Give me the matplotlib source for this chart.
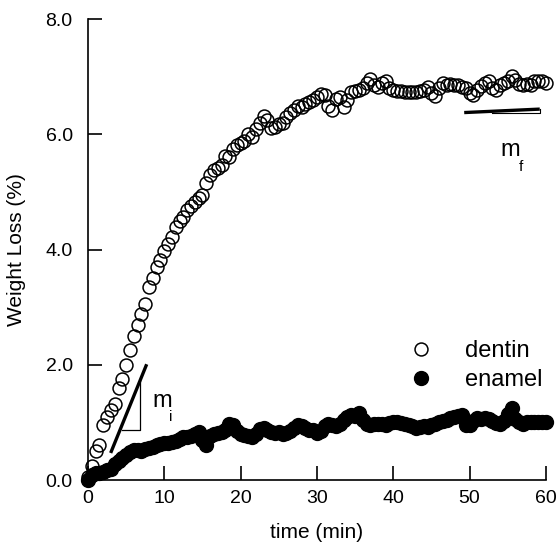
import matplotlib
matplotlib.use("Agg")
import matplotlib.pyplot as plt
from matplotlib.lines import Line2D

plt.rcParams['font.family'] = ['Liberation Sans', 'DejaVu Sans']

time_min = [0, 0.5, 1, 1.5, 2, 2.5, 3, 3.5, 4, 4.5, 5, 5.5, 6, 6.5, 7, 7.5, 8, 8.5, 9, 9.5,
            10, 10.5, 11, 11.5, 12, 12.5, 13, 13.5, 14, 14.5, 15, 15.5, 16, 16.5, 17, 17.5, 18, 18.5, 19, 19.5,
            20, 20.5, 21, 21.5, 22, 22.5, 23, 23.5, 24, 24.5, 25, 25.5, 26, 26.5, 27, 27.5, 28, 28.5, 29, 29.5,
            30, 30.5, 31, 31.5, 32, 32.5, 33, 33.5, 34, 34.5, 35, 35.5, 36, 36.5, 37, 37.5, 38, 38.5, 39, 39.5,
            40, 40.5, 41, 41.5, 42, 42.5, 43, 43.5, 44, 44.5, 45, 45.5, 46, 46.5, 47, 47.5, 48, 48.5, 49, 49.5,
            50, 50.5, 51, 51.5, 52, 52.5, 53, 53.5, 54, 54.5, 55, 55.5, 56, 56.5, 57, 57.5, 58, 58.5, 59, 59.5,
            60]

dentin = [0.05, 0.25, 0.50, 0.60, 0.95, 1.10, 1.22, 1.32, 1.60, 1.75, 2.00, 2.25, 2.50, 2.70, 2.88, 3.05, 3.35, 3.50, 3.70, 3.82,
          3.98, 4.10, 4.22, 4.40, 4.50, 4.57, 4.68, 4.75, 4.83, 4.90, 4.95, 5.15, 5.30, 5.38, 5.42, 5.47, 5.62, 5.60, 5.75, 5.82,
          5.85, 5.88, 6.00, 5.95, 6.10, 6.20, 6.32, 6.25, 6.12, 6.13, 6.18, 6.20, 6.30, 6.37, 6.42, 6.50, 6.48, 6.52, 6.57, 6.60,
          6.65, 6.70, 6.68, 6.50, 6.42, 6.62, 6.65, 6.48, 6.60, 6.74, 6.75, 6.77, 6.80, 6.90, 6.97, 6.85, 6.82, 6.90, 6.93, 6.80,
          6.78, 6.76, 6.75, 6.74, 6.73, 6.74, 6.73, 6.75, 6.78, 6.83, 6.72, 6.66, 6.80, 6.89, 6.85, 6.87, 6.86, 6.85, 6.83, 6.80,
          6.72, 6.68, 6.78, 6.84, 6.90, 6.93, 6.80, 6.77, 6.85, 6.89, 6.92, 7.02, 6.95, 6.88, 6.86, 6.88, 6.85, 6.92, 6.93, 6.92,
          6.90]

enamel = [0.00, 0.08, 0.12, 0.13, 0.14, 0.17, 0.20, 0.27, 0.33, 0.39, 0.44, 0.48, 0.52, 0.52, 0.50, 0.54, 0.56, 0.58, 0.60, 0.63,
          0.64, 0.65, 0.66, 0.68, 0.72, 0.75, 0.74, 0.76, 0.80, 0.83, 0.70, 0.60, 0.76, 0.80, 0.82, 0.83, 0.86, 0.97, 0.95, 0.85,
          0.80, 0.78, 0.76, 0.75, 0.80, 0.88, 0.90, 0.86, 0.83, 0.82, 0.84, 0.80, 0.81, 0.85, 0.90, 0.95, 0.93, 0.90, 0.87, 0.86,
          0.81, 0.85, 0.93, 0.98, 0.96, 0.94, 0.98, 1.05, 1.10, 1.13, 1.12, 1.16, 1.05, 0.98, 0.95, 0.97, 0.98, 0.97, 0.96, 0.99,
          1.00, 1.01, 0.99, 0.98, 0.96, 0.93, 0.90, 0.92, 0.93, 0.92, 0.95, 0.98, 1.00, 1.02, 1.04, 1.07, 1.10, 1.12, 1.13, 0.95,
          0.96, 1.03, 1.07, 1.06, 1.07, 1.06, 1.02, 0.99, 0.98, 1.03, 1.15, 1.25, 1.06, 1.00, 0.98, 1.00, 1.00, 1.00, 1.01, 1.00,
          1.00]

series_labels = ['dentin', 'enamel']
x_ticks = [0, 10, 20, 30, 40, 50, 60]
y_ticks = [0.0, 2.0, 4.0, 6.0, 8.0]

# slope guides (data coordinates)
mi_line_x = [2.97, 7.69]
mi_line_y = [0.47, 2.01]
mi_tri_x = [4.42, 6.82, 6.82]
mi_tri_y = [0.87, 0.87, 1.72]
mf_line_x = [49.3, 59.2]
mf_line_y = [6.38, 6.44]
mf_tri_x = [53.0, 59.2, 59.2]
mf_tri_y = [6.38, 6.38, 6.44]

fig = plt.figure(figsize=(5.57, 5.44), dpi=100)
ax = fig.add_axes([0.158, 0.1176, 0.822, 0.847])

ax.plot(time_min, dentin, linestyle='none', marker='o', markersize=9.3,
        markerfacecolor='none', markeredgecolor='black', markeredgewidth=1.1,
        clip_on=False, zorder=3)
ax.plot(time_min, enamel, linestyle='none', marker='o', markersize=10,
        markerfacecolor='black', markeredgecolor='black', markeredgewidth=1.0,
        clip_on=False, zorder=3)

ax.plot(mi_line_x, mi_line_y, color='black', linewidth=2.4, solid_capstyle='butt')
ax.plot(mi_tri_x, mi_tri_y, color='black', linewidth=0.9)
ax.plot(mf_line_x, mf_line_y, color='black', linewidth=2.4, solid_capstyle='butt')
ax.plot(mf_tri_x, mf_tri_y, color='black', linewidth=0.8)

ax.text(8.4, 1.27, 'm', fontsize=17, ha='left', va='baseline')
ax.text(10.6, 1.02, 'i', fontsize=11, ha='left', va='baseline')
ax.text(54.0, 5.62, 'm', fontsize=17, ha='left', va='baseline')
ax.text(56.5, 5.37, 'f', fontsize=11, ha='left', va='baseline')

handles = [Line2D([], [], linestyle='none', marker='o', markersize=9.3, markerfacecolor='none',
                  markeredgecolor='black', markeredgewidth=1.1),
           Line2D([], [], linestyle='none', marker='o', markersize=10, markerfacecolor='black',
                  markeredgecolor='black')]
ax.legend(handles, series_labels, loc='center left', bbox_to_anchor=(0.701, 0.248),
          frameon=False, fontsize=17, handletextpad=1.36, labelspacing=0.3,
          handlelength=1.0, borderaxespad=0, borderpad=0)

ax.set_xlim(0, 60)
ax.set_ylim(0, 8)
ax.set_xticks(x_ticks)
ax.set_yticks(y_ticks)
ax.set_xticklabels([str(t) for t in x_ticks])
ax.set_yticklabels([f'{v:.1f}' for v in y_ticks])
for side in ['top', 'right']:
    ax.spines[side].set_visible(False)
for side in ['left', 'bottom']:
    ax.spines[side].set_linewidth(1.2)
ax.tick_params(axis='both', direction='in', length=10, width=1.2, labelsize=14, colors='black')
ax.tick_params(axis='y', pad=11)
ax.tick_params(axis='x', pad=7)
ax.set_xlabel('time (min)', fontsize=15, labelpad=12)
ax.set_ylabel('Weight Loss (%)', fontsize=15, labelpad=14)

fig.savefig('out.png', dpi=100)
